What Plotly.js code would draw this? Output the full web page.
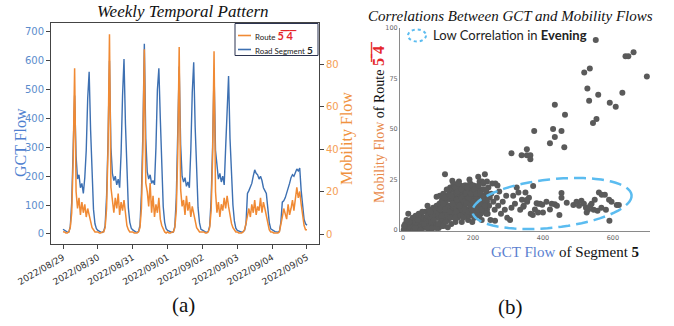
<!DOCTYPE html>
<html><head><meta charset="utf-8">
<script src="https://cdn.plot.ly/plotly-3.0.1.min.js"></script>
<style>html,body{margin:0;padding:0;background:#fff}#chart{width:674px;height:326px}</style>
</head><body><div id="chart"></div>
<script>
// ---------- Panel (a) data: hourly flows, 2022-08-29 00:00 .. 2022-09-05 00:00 ----------
const seriesStartUTC = Date.UTC(2022, 7, 29, 0);
const gctFlow = [
  16,12,8,6,6,25,110,290,480,270,190,205,160,175,140,195,290,470,562,360,190,85,35,18,
  12,8,6,5,9,28,130,320,600,300,210,185,200,170,190,160,280,480,606,380,200,90,40,20,
  14,10,7,6,8,30,140,350,659,330,215,190,205,175,185,170,300,500,574,400,220,95,40,18,
  12,9,6,5,7,26,125,330,580,310,200,180,195,165,180,160,290,490,595,370,210,90,38,16,
  13,9,7,6,8,28,120,300,560,290,230,190,210,180,200,170,300,460,547,330,200,100,45,20,
  12,9,7,6,8,12,35,140,150,165,175,200,222,210,205,190,200,185,160,150,140,90,40,18,
  14,10,8,7,6,9,40,110,115,125,140,160,175,195,205,200,215,225,218,228,150,90,50,35,
  30
];
const mobilityFlow = [
  1.1,1,0.5,0.5,1,3,10,35,78,20,12,17,9,15,10,14,8,12,9,6,3,2,1,1,
  1,0.5,0.5,1,1,3,12,40,94,22,14,10,17,12,19,9,15,11,16,8,4,2,1,1,
  1,0.5,0.5,0.5,1,3,12,40,87,24,20,13,24,10,18,8,14,10,17,7,4,2,1,0.5,
  1,0.5,0.5,1,1,3,11,38,88,21,13,16,9,18,11,15,8,13,10,6,3,2,1,1,
  1,1,0.5,0.5,1,3,11,36,86,20,10,15,8,14,11,17,12,18,13,8,5,3,2,1,
  1,0.5,0.5,0.5,1,2,5,9,12,8,14,10,16,9,13,11,17,10,15,12,9,6,2,1,
  1,0.5,0.5,0.5,0.5,1,4,8,12,10,7,14,9,12,16,11,18,22,17,20,14,8,4,2,
  2
];
const dateTicks = ['2022-08-29','2022-08-30','2022-08-31','2022-09-01','2022-09-02','2022-09-03','2022-09-04','2022-09-05'];
const dateTickLabels = ['2022/08/29','2022/08/30','2022/08/31','2022/09/01','2022/09/02','2022/09/03','2022/09/04','2022/09/05'];
const gctTicks = [0,100,200,300,400,500,600,700];
const mobTicks = [0,20,40,60,80];

// ---------- Panel (b) data: GCT flow vs mobility flow ----------
const scatterGct = [
  2,5,8,10,12,15,18,20,22,25,28,30,15,24,6,
  32,35,38,40,42,45,48,50,52,55,58,60,45,36,
  62,64,66,68,70,72,74,76,78,80,82,84,86,88,90,75,70,
  92,94,96,96,98,100,102,104,106,108,110,112,114,116,118,120,120,105,115,
  122,124,126,128,128,130,132,134,136,138,140,141,142,144,146,148,150,150,135,145,
  152,154,156,158,160,162,164,166,168,170,172,174,176,178,180,155,165,175,160,158,168,
  182,184,186,188,190,192,194,196,198,200,202,204,206,208,210,185,195,205,190,200,188,198,210,
  212,215,216,218,220,222,224,226,228,230,232,234,236,238,240,242,244,246,248,250,225,240,219,226,
  135,140,145,150,155,160,165,170,175,180,185,190,195,200,205,210,215,220,225,230,235,240,245,152,162,172,182,192,202,212,222,232,128,118,110,100,90,80,130,140,
  102,108,112,118,122,126,130,132,136,138,142,144,148,150,152,154,156,158,162,164,166,168,172,174,176,178,180,182,184,186,188,192,194,196,198,202,204,206,208,210,214,216,218,222,224,228,230,234,236,238,120,125,110,115,105,95,85,88,78,65,55,42,28,35,18,10,3,60,72,50,85,95,112,100,
  255,264,258,262,263,268,272,275,280,285,291,295,298,252,270,
  306,315,330,350,320,335,340,345,355,360,365,310,325,353,344,371,372,
  377,382,386,392,398,386,400,420,434,440,447,453,453,410,425,
  468,487,496,510,517,523,529,525,539,548,560,568,577,545,556,567,580,589,596,611,617,590,503,535,
  551,636,644,659,697,518,534,527,558,532,627,591,608,553,543,434,463,375,429,453,434,420,461,310,339,354,354,364,364
];
const scatterMob = [
  0,1,0,2,1,3,0,2,4,1,3,0,8,5,3,
  2,4,1,6,3,0,5,2,7,4,1,6,8,7,
  3,9,5,1,7,4,10,2,6,0,8,4,11,2,6,0,12,
  9,3,12,16.5,6,10,1,13,7,4,11,15,8,2,12,6,27.6,17,18,
  14,9,17,1.3,5,12,19,8,15,3,11,24.4,20,7,14,18,10,4,21,22,
  16,21,6,13,19,9,22,15,4,18,11,20,8,14,22,12,17,17,24,10,13,
  10,17,5,20,13,23,8,16,19,11,22,6,14,18,9,14,12,16,25,15,7,4,21,
  13,26.4,17,7,24,11,15,20,9,13,17,27.6,10,19,14,8,21,12,16,5,5,24,24,24,
  10,16,12,18,8,14,10,21,12,16,19,9,21,7,11,16,12,18,13,20,15,10,17,12,18,15,7,16,18,20,8,11,16,8,14,6,10,4,6,8,
  8,12,5,16,4,11,20,9,6,17,13,23,6,21,9,15,19,23,12,7,20,16,6,14,22,10,18,13,21,9,16,12,18,10,22,14,20,8,12,18,10,22,14,18,10,16,23,12,20,8,10,20,7,13,10,8,7,5,9,2,9,5,6,1,4,5,2,3,1,0,1,1,2,3,
  23,23,14,10,4.6,16,12,19,8,14,10,17,6,18,22,
  5,17,18.5,18.5,13,10,15,12,14,16,8,11,21,14.9,11.5,7.4,21.8,
  10.2,13.2,13,13,12.5,8.6,8.6,10.2,12.8,12,7.4,18.3,16,14,13,
  13.5,12.4,14,14.5,13,11,10,8.6,13,15,18.5,17.5,17.5,10,9.5,11,10,15,14,12.4,12.4,4.6,12,12,
  94,86,86,88,76,78,80,70,67,64,68,63,61,55,53,62,57,49,50,49,46,43,41,38,37,40,37,37,35
];
const scatterXTicks = [0,200,400,600];
const scatterYTicks = [0,25,50,75,100];

// ---------- build ----------
const times = gctFlow.map((_, i) => new Date(seriesStartUTC + i * 3600000).toISOString().slice(0,16).replace('T',' '));

const W = 674, H = 326;
const PX = x => x / W;
const PY = y => 1 - y / H;

const BLUE = '#3d70b2', ORANGE = '#f08a34';
const SERIF = 'Liberation Serif';
const SANS = 'Lato';
const OVER54 = '5\u0305 \u03054\u0305';

const traces = [
  {x: times, y: gctFlow, xaxis: 'x', yaxis: 'y', type: 'scatter', mode: 'lines',
   line: {color: BLUE, width: 1.4}, name: 'Road Segment 5', hoverinfo: 'skip'},
  {x: times, y: mobilityFlow, xaxis: 'x', yaxis: 'y2', type: 'scatter', mode: 'lines',
   line: {color: ORANGE, width: 1.5}, name: 'Route 54', hoverinfo: 'skip'},
  {x: scatterGct, y: scatterMob, xaxis: 'x3', yaxis: 'y3', type: 'scatter', mode: 'markers',
   marker: {size: 6, color: '#5a5a5a'}, hoverinfo: 'skip'}
];

// rotated dashed ellipse (annotation shape) in pixel space -> paper
function ellipsePath(cx, cy, a, b, deg) {
  const th = deg * Math.PI / 180;
  let p = '';
  for (let k = 0; k <= 72; k++) {
    const t = k / 72 * 2 * Math.PI;
    const x = cx + a * Math.cos(t) * Math.cos(th) + b * Math.sin(t) * Math.sin(th);
    const y = cy - a * Math.cos(t) * Math.sin(th) + b * Math.sin(t) * Math.cos(th);
    p += (k === 0 ? 'M' : 'L') + PX(x).toFixed(5) + ',' + PY(y).toFixed(5);
  }
  return p + 'Z';
}

const axisA = {showgrid: false, zeroline: false, showline: true, linecolor: '#444', linewidth: 1,
  ticks: 'outside', ticklen: 4, tickcolor: '#444'};
const axisB = {showgrid: false, zeroline: false, showline: true, linecolor: '#8a8a8a', linewidth: 1,
  ticks: '', tickfont: {family: 'DejaVu Sans', size: 6.5, color: '#666'}};

const layout = {
  width: W, height: H, margin: {l: 0, r: 0, t: 0, b: 0},
  paper_bgcolor: '#fff', plot_bgcolor: '#fff', showlegend: false,
  xaxis: Object.assign({}, axisA, {domain: [PX(51), PX(319)], anchor: 'y', type: 'date',
    range: ['2022-08-28 15:44', '2022-09-05 08:16'], tickvals: dateTicks, ticktext: dateTickLabels,
    tickangle: -30, mirror: true, tickfont: {family: 'DejaVu Sans', size: 9, color: '#333'}}),
  yaxis: Object.assign({}, axisA, {domain: [PY(244), PY(23)], anchor: 'x', range: [-35, 731],
    tickvals: gctTicks, tickfont: {family: 'DejaVu Sans', size: 10, color: '#5b8ccc'}}),
  yaxis2: Object.assign({}, axisA, {overlaying: 'y', side: 'right', anchor: 'x', range: [-4.7, 99.3],
    tickvals: mobTicks, tickfont: {family: 'DejaVu Sans', size: 10, color: '#f5a055'}}),
  xaxis3: Object.assign({}, axisB, {domain: [PX(400), PX(650)], anchor: 'y3', range: [-8.6, 706],
    tickvals: scatterXTicks}),
  yaxis3: Object.assign({}, axisB, {domain: [PY(231), PY(28)], anchor: 'x3', range: [-0.5, 100],
    tickvals: scatterYTicks}),
  shapes: [
    {type: 'rect', xref: 'paper', yref: 'paper', x0: PX(235), x1: PX(318), y0: PY(55.5), y1: PY(23.5),
     line: {color: '#2b3350', width: 1}, fillcolor: '#fff'},
    {type: 'line', xref: 'paper', yref: 'paper', x0: PX(238), x1: PX(251), y0: PY(35.5), y1: PY(35.5),
     line: {color: ORANGE, width: 1.6}},
    {type: 'line', xref: 'paper', yref: 'paper', x0: PX(238), x1: PX(251), y0: PY(49.5), y1: PY(49.5),
     line: {color: BLUE, width: 1.6}},
    {type: 'circle', xref: 'paper', yref: 'paper', x0: PX(408), x1: PX(426), y0: PY(41.5), y1: PY(29.5),
     line: {color: '#5bbcf0', width: 2, dash: 'dot'}},
    {type: 'path', xref: 'paper', yref: 'paper', path: ellipsePath(552, 203.5, 80, 24.2, 6.1),
     line: {color: '#5bbcf0', width: 2.5, dash: '12px,6px'}}
  ],
  annotations: [
    {text: '<i>Weekly Temporal Pattern</i>', x: PX(182.5), y: PY(11), xref: 'paper', yref: 'paper',
     showarrow: false, xanchor: 'center', yanchor: 'middle', font: {family: SERIF, size: 17, color: '#111'}},
    {text: '<i>Correlations Between GCT and Mobility Flows</i>', x: PX(510), y: PY(16), xref: 'paper', yref: 'paper',
     showarrow: false, xanchor: 'center', yanchor: 'middle', font: {family: SERIF, size: 15, color: '#111'}},
    {text: 'GCT Flow', x: PX(20), y: PY(143), xref: 'paper', yref: 'paper', textangle: -90,
     showarrow: false, xanchor: 'center', yanchor: 'middle', font: {family: SERIF, size: 16, color: '#4f7fcf'}},
    {text: 'Mobility Flow', x: PX(347), y: PY(138), xref: 'paper', yref: 'paper', textangle: -90,
     showarrow: false, xanchor: 'center', yanchor: 'middle', font: {family: SERIF, size: 16, color: '#f0923e'}},
    {text: 'Route <b><span style="color:#e5262a;font-size:11px">' + OVER54 + '</span></b>', x: PX(253), y: PY(35.5),
     xref: 'paper', yref: 'paper', showarrow: false, xanchor: 'left', yanchor: 'middle',
     font: {family: SANS, size: 7.9, color: '#222'}},
    {text: 'Road Segment <b><span style="font-size:10px">5</span></b>', x: PX(253), y: PY(49.5),
     xref: 'paper', yref: 'paper', showarrow: false, xanchor: 'left', yanchor: 'middle',
     font: {family: SANS, size: 7.9, color: '#222'}},
    {text: 'Low Correlation in <b>Evening</b>', x: PX(431), y: PY(35), xref: 'paper', yref: 'paper',
     showarrow: false, xanchor: 'left', yanchor: 'middle', font: {family: SANS, size: 13, color: '#222'}},
    {text: '<span style="color:#e8894a">Mobility Flow</span> of Route <b><span style="color:#e5262a;font-size:16px">' + OVER54 + '</span></b>',
     x: PX(378), y: PY(122), xref: 'paper', yref: 'paper', textangle: -90, showarrow: false,
     xanchor: 'center', yanchor: 'middle', font: {family: SERIF, size: 14, color: '#111'}},
    {text: '<span style="color:#5b7fd0">GCT Flow</span> of Segment <b>5</b>', x: PX(565), y: PY(252),
     xref: 'paper', yref: 'paper', showarrow: false, xanchor: 'center', yanchor: 'middle',
     font: {family: SERIF, size: 15, color: '#111'}},
    {text: '(a)', x: PX(183), y: PY(305), xref: 'paper', yref: 'paper', showarrow: false,
     xanchor: 'center', yanchor: 'middle', font: {family: SERIF, size: 21, color: '#111'}},
    {text: '(b)', x: PX(510), y: PY(307), xref: 'paper', yref: 'paper', showarrow: false,
     xanchor: 'center', yanchor: 'middle', font: {family: SERIF, size: 21, color: '#111'}}
  ]
};

Plotly.newPlot('chart', traces, layout, {staticPlot: true, displayModeBar: false});
</script>
</body></html>
